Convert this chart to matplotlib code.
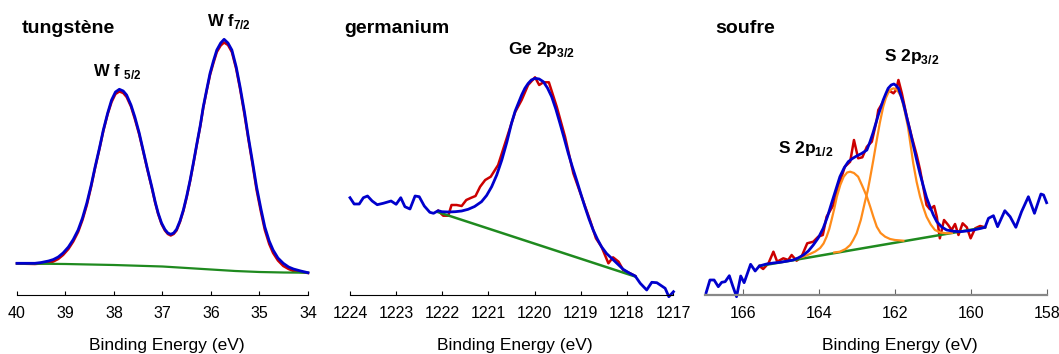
import numpy as np
import matplotlib
matplotlib.use('Agg')
import matplotlib.pyplot as plt

plt.rcParams['font.family'] = ['Liberation Sans', 'DejaVu Sans']
plt.rcParams['mathtext.fontset'] = 'custom'
plt.rcParams['mathtext.rm'] = 'Liberation Sans'
plt.rcParams['mathtext.bf'] = 'Liberation Sans:bold'

# ---- tungstene (W 4f) ----
w_be = [40.00, 39.80, 39.63, 39.50, 39.35, 39.25, 39.15, 39.05, 38.94, 38.84, 38.74, 38.65,
        38.56, 38.47, 38.39, 38.30, 38.22, 38.13, 38.05, 37.97, 37.89, 37.81, 37.74, 37.65,
        37.57, 37.48, 37.40, 37.31, 37.22, 37.15, 37.09, 37.02, 36.95, 36.89, 36.83, 36.77,
        36.71, 36.64, 36.57, 36.50, 36.43, 36.36, 36.29, 36.22, 36.16, 36.09, 36.02, 35.95,
        35.88, 35.80, 35.73, 35.65, 35.57, 35.48, 35.40, 35.31, 35.23, 35.14, 35.06, 34.97,
        34.89, 34.80, 34.72, 34.62, 34.51, 34.40, 34.30, 34.15, 34.00]
w_fit = [31.7, 31.7, 31.7, 32.5, 34, 35.5, 38, 42, 48, 55.5, 65, 77,
         92, 110, 128, 147, 165, 182, 195, 203, 205.7, 204, 200, 190,
         178, 162, 145, 126, 108, 93, 82, 72, 65.5, 62, 60.7, 62,
         65.7, 74, 85, 99, 115, 133, 151.7, 170, 188, 205, 221.7, 234,
         245, 252, 255.7, 252, 245, 228, 208, 183, 158, 132, 108, 86,
         68, 54, 45, 37, 31.7, 28, 26, 24, 22.3]
w_data = [31.5, 31.2, 31, 31.5, 32, 33.5, 36, 40, 46, 53.5, 63, 75,
          90, 108.5, 127, 146, 164, 181, 193, 201, 203.5, 202, 198, 188.5,
          176, 160.5, 144, 125, 107, 92, 81, 71, 64.5, 61, 59.5, 61,
          64.5, 73, 84, 98, 114, 132, 151, 169, 187, 204, 220, 232,
          243, 249.5, 252.5, 250, 243, 226, 206, 180.5, 156, 129.5, 105, 83,
          65, 51, 42, 34.5, 29, 26, 24, 23, 22.0]
w_bg_be = [40, 39, 38, 37, 36.5, 36, 35.5, 35, 34.5, 34]
w_bg = [31.5, 31, 30, 28.5, 27, 25.5, 24, 23, 22.5, 22.3]

# ---- germanium (Ge 2p3/2) ----
ge_be = [1224.00, 1223.91, 1223.80, 1223.71, 1223.62, 1223.52, 1223.41, 1223.28, 1223.11,
         1223.00, 1222.90, 1222.81, 1222.70, 1222.59, 1222.50, 1222.39, 1222.27, 1222.19,
         1222.09, 1222.01, 1221.87, 1221.72, 1221.58, 1221.44, 1221.30, 1221.15, 1221.04,
         1220.93, 1220.82, 1220.71, 1220.60, 1220.50, 1220.42, 1220.35, 1220.28, 1220.21,
         1220.14, 1220.07, 1219.99, 1219.90, 1219.81, 1219.72, 1219.63, 1219.54, 1219.45,
         1219.36, 1219.27, 1219.18, 1219.09, 1219.00, 1218.91, 1218.82, 1218.73, 1218.64,
         1218.55, 1218.44, 1218.33, 1218.20, 1218.08, 1217.95, 1217.82, 1217.71, 1217.57,
         1217.46, 1217.35, 1217.17, 1217.09, 1216.99]
ge_fit = [97.3, 91, 91, 97.3, 99, 94, 90.3, 91.7, 94,
          90.7, 97.3, 88.3, 86, 99, 98.3, 89, 82.7, 81.7,
          84.3, 83.3, 83, 83.3, 84, 85.7, 88.5, 93.3, 99.5,
          108.3, 120, 135, 153, 171.7, 184, 192, 200, 206.7,
          211.5, 215, 216.7, 216, 213.3, 207, 198.3, 186, 171.7,
          157, 141.7, 128, 115, 101.5, 88.3, 76, 65, 56,
          48.3, 41.5, 36.7, 31, 25.7, 22, 19, 11.7, 5,
          12.7, 12.3, 6.7, -1.7, 3.3]
ge_data_be = [1222.09, 1221.98, 1221.87, 1221.80, 1221.69, 1221.58, 1221.48, 1221.37, 1221.28,
              1221.18, 1221.07, 1220.95, 1220.79, 1220.57, 1220.42, 1220.28, 1220.14, 1219.99,
              1219.90, 1219.81, 1219.69, 1219.52, 1219.34, 1219.16, 1218.98, 1218.80, 1218.67,
              1218.55, 1218.40, 1218.30, 1218.18, 1218.08, 1217.93, 1217.82]
ge_data = [84.3, 79.3, 79.3, 90, 90, 89, 95, 97.3, 99,
           108.3, 115, 118.3, 130, 161.7, 183, 195, 210, 217.7,
           210, 212.7, 212.7, 188.3, 158.3, 121.7, 98.3, 75, 56.7,
           48.3, 31.7, 37.7, 33.3, 25, 21.7, 19]
ge_bg_be = [1222.10, 1217.82]
ge_bg = [83, 18.5]

# ---- soufre (S 2p) ----
s_be = [166.97, 166.87, 166.76, 166.65, 166.56, 166.47, 166.36, 166.27, 166.17, 166.06,
        165.97, 165.80, 165.68, 165.57, 165.38, 165.20, 165.03, 164.85, 164.68, 164.55,
        164.41, 164.28, 164.15, 164.02, 163.89, 163.78, 163.67, 163.56, 163.45, 163.34,
        163.23, 163.12, 163.01, 162.88, 162.74, 162.66, 162.58, 162.51, 162.44, 162.37,
        162.31, 162.24, 162.18, 162.10, 162.03, 161.97, 161.91, 161.85, 161.78, 161.70,
        161.61, 161.52, 161.43, 161.34, 161.25, 161.17, 161.08, 160.99, 160.90, 160.77,
        160.64, 160.47, 160.29, 160.12, 159.94, 159.78, 159.63, 159.54, 159.41, 159.30,
        159.11, 158.97, 158.82, 158.67, 158.49, 158.33, 158.16, 158.09, 158.01]
s_fit = [2.3, 15, 15, 8.3, 12.7, 13.3, 19.3, 9, -1.7, 19,
         12.3, 30.7, 24, 29, 31, 32, 32.7, 33.8, 35, 37,
         40, 44, 50, 57, 66.7, 78, 91.7, 105, 118.3, 127,
         133.3, 136.5, 139, 141.5, 145, 153, 162, 171, 180, 188,
         195, 201.5, 206.7, 210, 211, 209.5, 206.7, 200, 191.7, 179,
         165, 150, 135, 121, 108.3, 97.5, 88.3, 80, 73.3, 68,
         65, 63.8, 63.3, 64, 65, 66.3, 67.7, 76.7, 79.3, 68.3,
         84.3, 78.3, 67.7, 83.3, 98.3, 81.7, 101, 100, 92.3]
s_data_be = [165.57, 165.47, 165.33, 165.20, 165.10, 164.94, 164.81, 164.72, 164.59, 164.46,
             164.31, 164.15, 164.02, 163.90, 163.80, 163.62, 163.49, 163.32, 163.18, 163.08,
             162.97, 162.86, 162.74, 162.61, 162.48, 162.44, 162.31, 162.18, 162.04, 161.97,
             161.91, 161.82, 161.69, 161.56, 161.43, 161.34, 161.25, 161.17, 161.08, 160.97,
             160.90, 160.82, 160.71, 160.60, 160.51, 160.42, 160.33, 160.22, 160.11, 160.01,
             159.89, 159.76, 159.63]
s_data = [29, 26, 31.7, 43.3, 33.3, 36.7, 35, 40, 34.3, 38.3,
          51.7, 53.3, 58.3, 60, 78.3, 90, 108.3, 128.3, 133.3, 155,
          136.7, 137.7, 148.3, 153.3, 175, 185, 193.3, 205, 201.7, 205,
          215, 201.7, 178.3, 158.3, 140, 125, 106.7, 90, 85.7, 89,
          78.3, 56.7, 75, 70, 65, 71, 60, 71.7, 67.7, 56.7,
          66.7, 69, 67.7]
s_bg_be = [165.57, 159.63]
s_bg = [29, 67.7]
s12_be = [164.60, 164.40, 164.24, 164.10, 163.97, 163.88, 163.80, 163.73, 163.67, 163.60,
          163.53, 163.44, 163.35, 163.26, 163.18, 163.08, 162.97, 162.86, 162.74, 162.65,
          162.57, 162.48, 162.38, 162.26, 162.13, 162.00, 161.78]
s12 = [36.5, 38.5, 41, 43.5, 47, 51.5, 58.3, 66, 75, 86,
       98.3, 110, 118.3, 122.5, 123.3, 122, 118.3, 109, 98.3, 88,
       78.3, 68.3, 62, 58.3, 56, 55, 54.3]
s32_be = [163.60, 163.45, 163.30, 163.18, 163.10, 163.01, 162.90, 162.79, 162.72, 162.66,
          162.57, 162.48, 162.40, 162.31, 162.24, 162.18, 162.11, 162.04, 161.97, 161.91,
          161.84, 161.75, 161.66, 161.59, 161.52, 161.43, 161.34, 161.25, 161.17, 161.06,
          160.95, 160.80, 160.64, 160.50]
s32 = [42.5, 43.3, 46, 50, 55, 61.7, 75, 93.3, 104, 116,
       135, 155, 172, 188.3, 197, 202, 205.5, 206.7, 205.5, 203,
       198.3, 185, 168.3, 150, 131.7, 113, 98.3, 87, 78.3, 70.5,
       65, 62.5, 61.7, 62]

red = '#cc0000'
blue = '#0000cc'
green = '#1f8a1f'
orange = '#ff8c1a'

fig = plt.figure(figsize=(10.59, 3.54), dpi=100)
W, H = 1059.0, 354.0
bottom = (H - 295) / H
height = 285 / H

ax1 = fig.add_axes([17 / W, bottom, 291 / W, height])
ax2 = fig.add_axes([350 / W, bottom, 323 / W, height])
ax3 = fig.add_axes([705 / W, bottom, 342 / W, height])

ax1.plot(w_be, w_data, color=red, lw=1.8, clip_on=False)
ax1.plot(w_bg_be, w_bg, color=green, lw=1.6, clip_on=False)
ax1.plot(w_be, w_fit, color=blue, lw=2.0, clip_on=False)
ax1.set_xlim(40, 34)
ax1.set_xticks([40, 39, 38, 37, 36, 35, 34])

ax2.plot(ge_data_be, ge_data, color=red, lw=1.8, clip_on=False)
ax2.plot(ge_bg_be, ge_bg, color=green, lw=1.8, clip_on=False)
ax2.plot(ge_be, ge_fit, color=blue, lw=2.0, clip_on=False)
ax2.set_xlim(1224, 1217)
ax2.set_xticks([1224, 1223, 1222, 1221, 1220, 1219, 1218, 1217])

ax3.plot(s_data_be, s_data, color=red, lw=1.8, clip_on=False)
ax3.plot(s_bg_be, s_bg, color=green, lw=1.8, clip_on=False)
ax3.plot(s12_be, s12, color=orange, lw=1.6, clip_on=False)
ax3.plot(s32_be, s32, color=orange, lw=1.6, clip_on=False)
ax3.plot(s_be, s_fit, color=blue, lw=2.0, clip_on=False)
ax3.set_xlim(167, 158)
ax3.set_xticks([166, 164, 162, 160, 158])

for ax in (ax1, ax2, ax3):
    ax.set_ylim(0, 285)
    ax.set_yticks([])
    for s in ('left', 'right', 'top'):
        ax.spines[s].set_visible(False)
    ax.tick_params(axis='x', direction='in', length=3, pad=8, labelsize=11.5)
    ax.patch.set_alpha(0)

ax3.spines['bottom'].set_color('#888888')
ax3.spines['bottom'].set_linewidth(1.6)
ax3.tick_params(axis='x', color='#666666', length=4)

# panel titles
fig.text(22 / W, 1 - 33 / H, 'tungstène', fontsize=14, fontweight='bold', va='baseline')
fig.text(344 / W, 1 - 33 / H, 'germanium', fontsize=14, fontweight='bold', va='baseline')
fig.text(715 / W, 1 - 33 / H, 'soufre', fontsize=14, fontweight='bold', va='baseline')

# peak labels
fig.text(93 / W, 1 - 76 / H, r'W f $_{\mathbf{5/2}}$', fontsize=12, fontweight='bold', va='baseline')
fig.text(207 / W, 1 - 26 / H, r'W f$_{\mathbf{7/2}}$', fontsize=12, fontweight='bold', va='baseline')
fig.text(508 / W, 1 - 54 / H, r'Ge 2p$_{\mathbf{3/2}}$', fontsize=12.5, fontweight='bold', va='baseline')
fig.text(884 / W, 1 - 61 / H, r'S 2p$_{\mathbf{3/2}}$', fontsize=12.5, fontweight='bold', va='baseline')
fig.text(778 / W, 1 - 153 / H, r'S 2p$_{\mathbf{1/2}}$', fontsize=12.5, fontweight='bold', va='baseline')

# axis labels
for xc in (167, 515, 900):
    fig.text(xc / W, 1 - 350 / H, 'Binding Energy (eV)', fontsize=12.5, ha='center', va='baseline')

fig.savefig('out.png', dpi=100)
